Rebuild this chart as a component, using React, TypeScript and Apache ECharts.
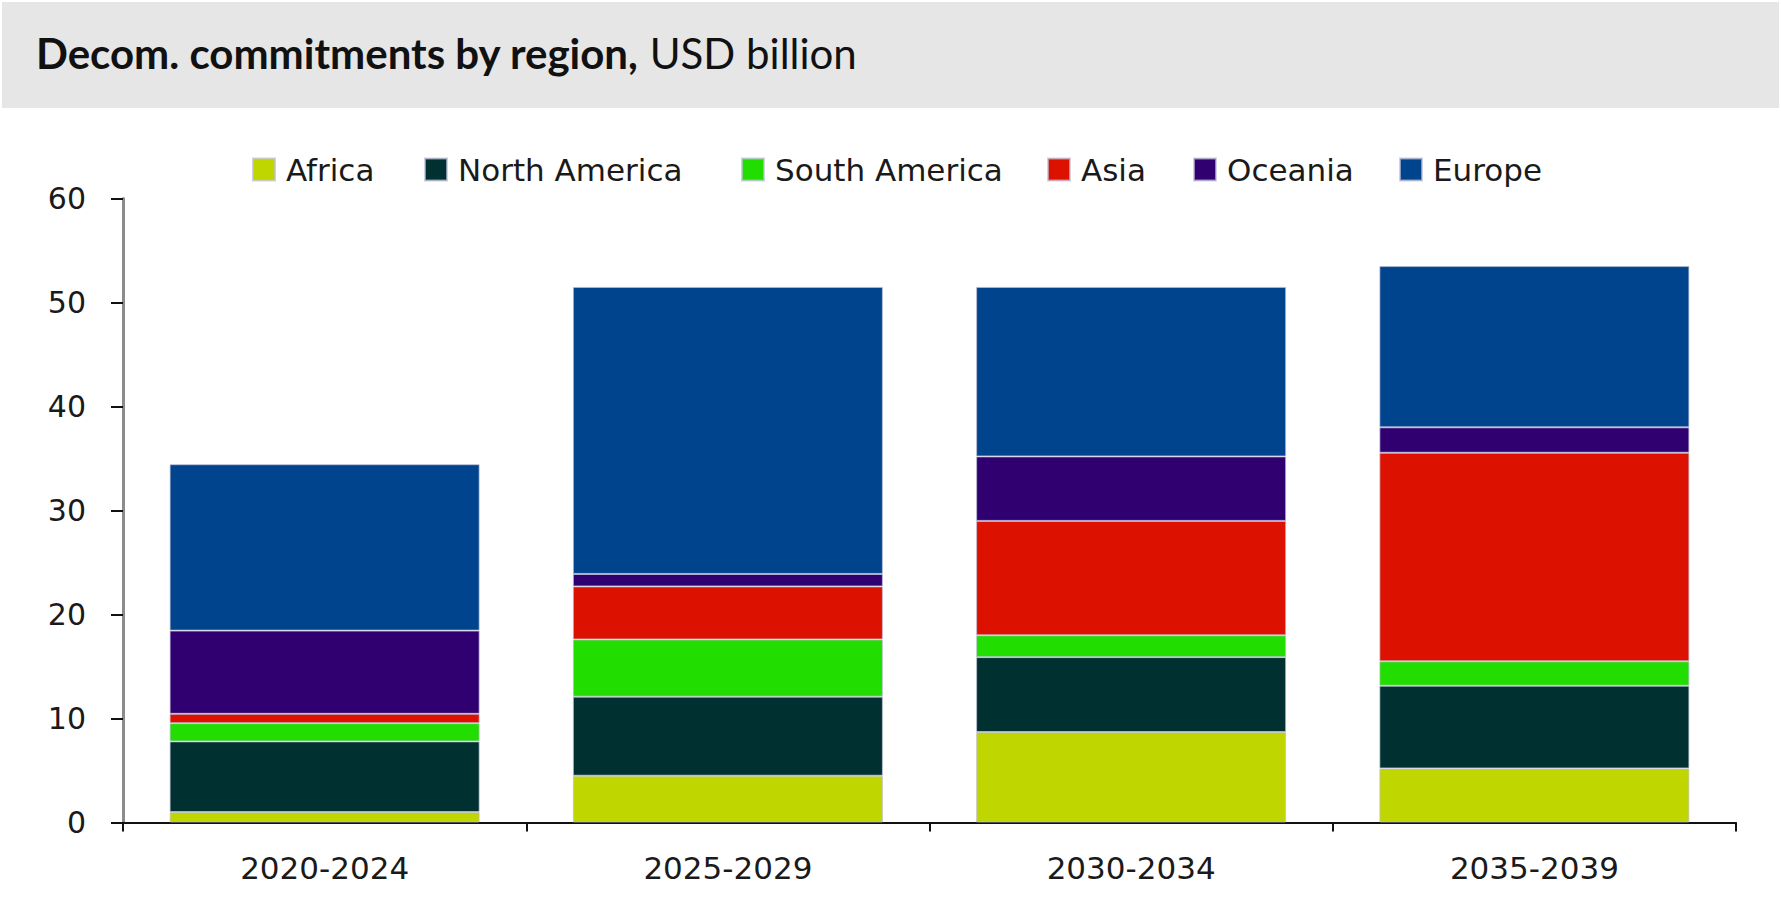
import React, { useEffect, useRef } from "react";
import * as echarts from "echarts";

const categories = ["2020-2024", "2025-2029", "2030-2034", "2035-2039"];
const regions = ["Africa", "North America", "South America", "Asia", "Oceania", "Europe"];
const africa = [1.0, 4.5, 8.7, 5.2];
const northAmerica = [6.8, 7.6, 7.2, 7.95];
const southAmerica = [1.75, 5.5, 2.1, 2.35];
const asia = [0.9, 5.1, 11.0, 20.05];
const oceania = [8.0, 1.2, 6.2, 2.45];
const europe = [16.0, 27.6, 16.3, 15.5];
const seriesValues = [africa, northAmerica, southAmerica, asia, oceania, europe];
const colors = ["#BFD600", "#003030", "#22DD00", "#DD1100", "#300070", "#00448E"];
const legendLefts = [252, 424, 741, 1047, 1193, 1399];

export default function App() {
  const ref = useRef<HTMLDivElement>(null);
  useEffect(() => {
    if (!ref.current) return;
    const chart = echarts.init(ref.current, null, { renderer: "svg" });
    const option: any = {
      animation: false,
      backgroundColor: "#ffffff",
      graphic: [
        {
          type: "rect",
          shape: { x: 2, y: 2, width: 1777, height: 106 },
          style: { fill: "#e6e6e6" },
          z: -10,
        },
      ],
      title: {
        text: "{b|Decom. commitments by region,}{r| USD billion}",
        left: 36,
        top: 28,
        padding: 0,
        textStyle: {
          rich: {
            b: { fontFamily: "Lato", fontWeight: "bold", fontSize: 42, color: "#111", lineHeight: 50 },
            r: { fontFamily: "Lato", fontWeight: "normal", fontSize: 42, color: "#111", lineHeight: 50 },
          },
        },
      },
      legend: regions.map((name, i) => ({
        data: [name],
        left: legendLefts[i],
        top: 154,
        padding: 0,
        icon: "rect",
        itemWidth: 22,
        itemHeight: 22,
        selectedMode: false,
        textStyle: {
          fontFamily: "DejaVu Sans",
          fontSize: 31,
          color: "#1a1a1a",
          padding: [0, 0, 0, 6],
        },
      })),
      grid: { left: 123, right: 45, top: 198.5, bottom: 78.5 },
      xAxis: {
        type: "category",
        data: categories,
        axisLine: { lineStyle: { color: "#111", width: 2 } },
        axisTick: { show: true, length: 9, lineStyle: { color: "#111", width: 2 } },
        axisLabel: { fontFamily: "DejaVu Sans", fontSize: 31, color: "#1a1a1a", margin: 30 },
      },
      yAxis: {
        type: "value",
        min: 0,
        max: 60,
        interval: 10,
        splitLine: { show: false },
        axisLine: { show: true, lineStyle: { color: "#8c8c8c", width: 3 } },
        axisTick: { show: true, length: 12, lineStyle: { color: "#111", width: 2 } },
        axisLabel: { fontFamily: "DejaVu Sans", fontSize: 30, color: "#1a1a1a", margin: 37 },
      },
      series: regions.map((name, i) => ({
        name,
        type: "bar",
        stack: "total",
        barWidth: 310,
        data: seriesValues[i],
        itemStyle: { color: colors[i], borderColor: "rgba(190,190,215,0.7)", borderWidth: 1 },
      })),
    };
    chart.setOption(option);
    return () => chart.dispose();
  }, []);
  return (
    <div
      ref={ref}
      style={{ position: "fixed", left: 0, top: 0, width: 1781, height: 901, background: "#fff" }}
    />
  );
}
